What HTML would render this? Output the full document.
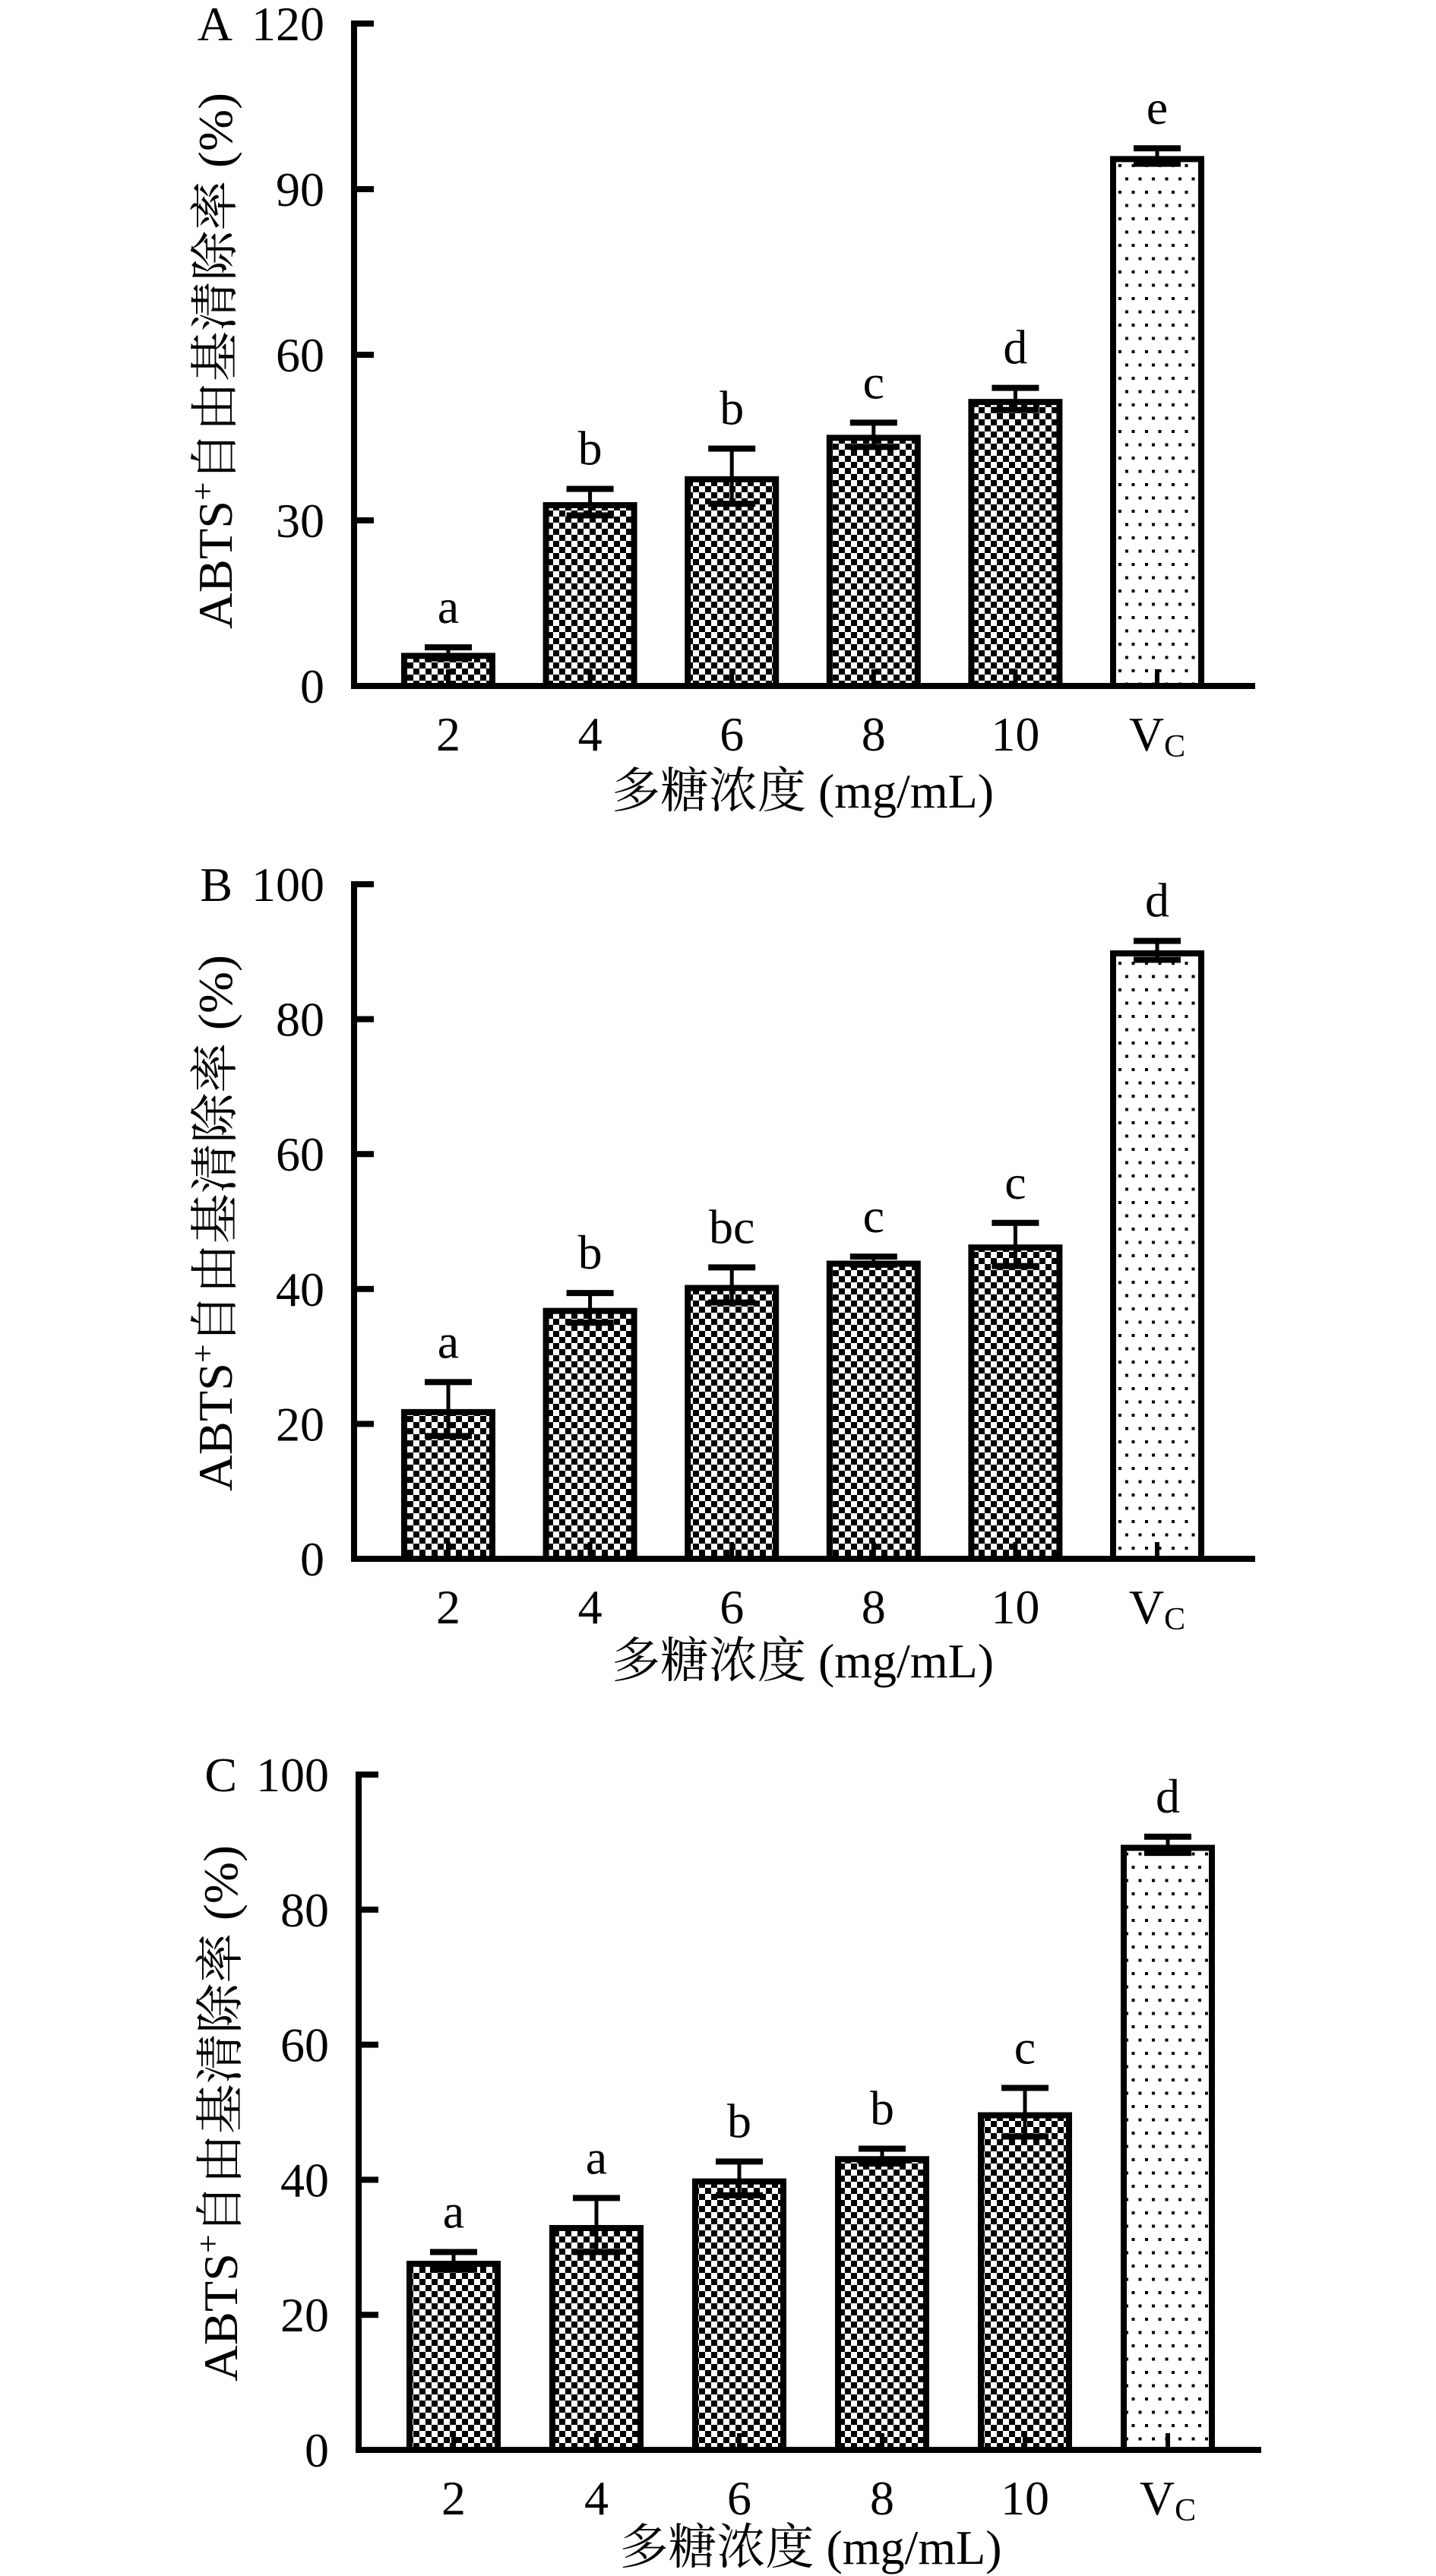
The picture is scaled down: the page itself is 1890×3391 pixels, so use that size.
<!DOCTYPE html>
<html><head><meta charset="utf-8"><style>
html,body{margin:0;padding:0;background:#fff;}
svg{display:block;}
text{font-family:"Liberation Serif","Noto Serif CJK SC",serif;fill:#000;}
</style></head><body>
<svg id="chart" width="1890" height="3391" viewBox="0 0 1890 3391" xmlns="http://www.w3.org/2000/svg">
<defs>
<pattern id="checker" width="16" height="16" patternUnits="userSpaceOnUse">
<rect width="16" height="16" fill="#fff"/><rect width="8" height="8" fill="#000"/><rect x="8" y="8" width="8" height="8" fill="#000"/>
</pattern>
<pattern id="dots" width="17.5" height="35" patternUnits="userSpaceOnUse">
<rect width="17.5" height="35" fill="#fff"/><rect x="2" y="6" width="4" height="4" fill="#000"/><rect x="11" y="23.5" width="4" height="4" fill="#000"/>
</pattern>
</defs>
</svg>
<script>
const categories = ["2","4","6","8","10","VC"];
const valuesA = [6, 33.3, 38, 45.5, 52, 96];
const errorsA = [1, 2.4, 5, 2.2, 2, 1.4];
const lettersA = ["a","b","b","c","d","e"];
const ticksA = [0,30,60,90,120];
const valuesB = [22.2, 37.2, 40.6, 44.2, 46.6, 90.2];
const errorsB = [4, 2.2, 2.6, 0.6, 3.2, 1.4];
const lettersB = ["a","b","bc","c","c","d"];
const ticksB = [0,20,40,60,80,100];
const valuesC = [28, 33.3, 40.2, 43.5, 50, 89.6];
const errorsC = [1.3, 4, 2.5, 1.1, 3.6, 1.2];
const lettersC = ["a","a","b","b","c","d"];
const ticksC = [0,20,40,60,80,100];

const NS = "http://www.w3.org/2000/svg";
const svg = document.getElementById("chart");
function mk(tag, attrs, parent){
  const e = document.createElementNS(NS, tag);
  for (const k in attrs) e.setAttribute(k, attrs[k]);
  (parent||svg).appendChild(e);
  return e;
}

function panel(id, label, values, errors, letters, ticks, cfg){
  const g = mk("g", {});
  
  
  const yMax = ticks[ticks.length-1];
  const y = v => cfg.y0 - (v / yMax) * (cfg.y0 - cfg.yTop);
  const x = i => cfg.x0 + i * cfg.step;
  const bw = 124;

  values.forEach((v, i) => {
    const r = mk("rect", {x: x(i)-bw/2+4, y: y(v)+4, width: bw-8, height: Math.max(0, cfg.y0 - y(v) - 4),
      fill: i === values.length-1 ? "url(#dots)" : "url(#checker)", stroke: "#000", "stroke-width": 8}, g);
    
    
    const eg = mk("g", {}, g);
    
    
    const top = y(v + errors[i]), bot = y(v - errors[i]);
    mk("rect", {x: x(i)-2.5, y: top, width: 5, height: bot-top, fill: "#000"}, eg);
    mk("rect", {x: x(i)-31, y: top-4, width: 62, height: 8, fill: "#000"}, eg);
    mk("rect", {x: x(i)-31, y: bot-4, width: 62, height: 8, fill: "#000"}, eg);
    mk("rect", {x: x(i)-3, y: cfg.y0-22, width: 6, height: 22, fill: "#000"}, eg);
    const t = mk("text", {x: x(i), y: top - 32, "text-anchor": "middle", "font-size": 64}, g);
    t.textContent = letters[i];
    
    
  });

  const ya = mk("rect", {x: cfg.ax-4, y: cfg.yTop-4, width: 8, height: cfg.y0-cfg.yTop+8, fill: "#000"}, g);
  
  
  ticks.forEach(tv => {
    mk("rect", {x: cfg.ax, y: y(tv)-4, width: 26, height: 8, fill: "#000"}, g);
    const tl = mk("text", {x: cfg.ax-39, y: y(tv)+22, "text-anchor": "end", "font-size": 64}, g);
    tl.textContent = tv;
    
    
  });
  const xa = mk("rect", {x: cfg.ax-4, y: cfg.y0-4, width: cfg.xEnd-cfg.ax+4, height: 8, fill: "#000"}, g);
  
  
  categories.forEach((c, i) => {
    const t = mk("text", {x: x(i), y: cfg.y0 + 85, "text-anchor": "middle", "font-size": 64}, g);
    if (c === "VC") {
      t.textContent = "V";
      const s = mk("tspan", {"font-size": 42, dy: 8}, t);
      s.textContent = "C";
    } else t.textContent = c;
    
    
  });
  const xt = mk("text", {x: (cfg.x0 + x(5))/2, y: cfg.y0 + cfg.xtOff, "text-anchor": "middle", "font-size": 64}, g);
  xt.textContent = "多糖浓度 (mg/mL)";
  
  
  const cy = cfg.titleCy;
  const yt = mk("text", {x: 0, y: 0, "text-anchor": "middle", "font-size": 64, transform: `translate(${cfg.titleCx + 22},${cy}) rotate(-90)`, textLength: 706, lengthAdjust: "spacingAndGlyphs"}, g);
  yt.textContent = "ABTS";
  const sup = mk("tspan", {"font-size": 42, dy: -24}, yt);
  sup.textContent = "+";
  const rest = mk("tspan", {dy: 24}, yt);
  rest.textContent = "自由基清除率 (%)";
  
  
  const pl = mk("text", {x: cfg.ax-160, y: cfg.yTop+22, "text-anchor": "end", "font-size": 64}, g);
  pl.textContent = label;
  
  
}

panel("a", "A", valuesA, errorsA, lettersA, ticksA, {ax: 466, x0: 590, step: 186.6, y0: 903, yTop: 31, xEnd: 1652, titleCx: 283, titleCy: 475, xtOff: 160});
panel("b", "B", valuesB, errorsB, lettersB, ticksB, {ax: 466, x0: 590, step: 186.6, y0: 2052, yTop: 1164, xEnd: 1652, titleCx: 283, titleCy: 1610, xtOff: 156});
panel("c", "C", valuesC, errorsC, lettersC, ticksC, {ax: 472, x0: 597, step: 188, y0: 3225, yTop: 2336, xEnd: 1660, titleCx: 290, titleCy: 2782, xtOff: 150});
</script>
</body></html>
